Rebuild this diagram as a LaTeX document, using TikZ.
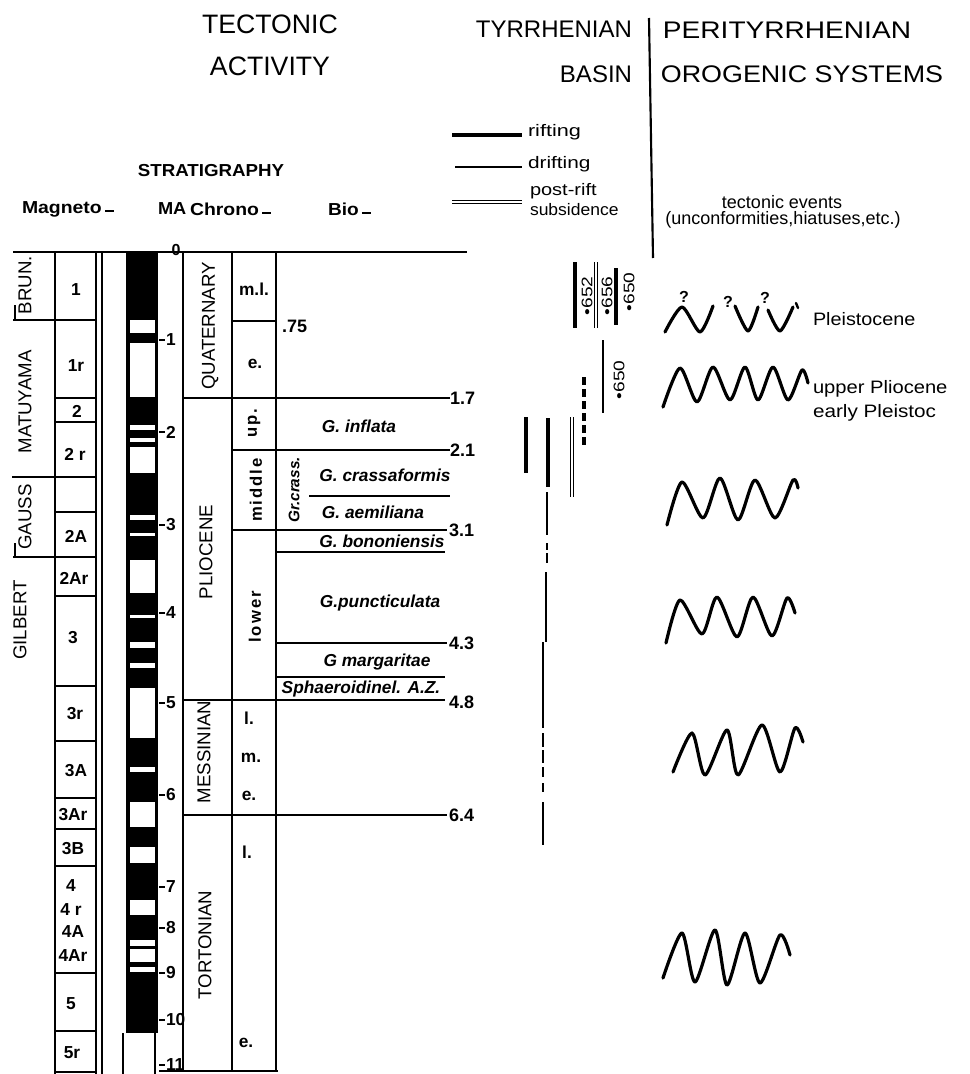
\documentclass[tikz,border=0pt]{standalone}
\usepackage{fontspec}
\setmainfont{Liberation Sans}
\usepackage{graphicx}
\newcommand{\fsz}[1]{\fontsize{#1}{#1}\selectfont}
\newcommand{\udash}{\,\rule[0.6pt]{6pt}{1.7pt}}
\begin{document}
\begin{tikzpicture}[x=0.75pt,y=-0.75pt,
  every node/.style={inner sep=0pt, outer sep=0pt},
  boxl/.style={line width=2.1pt},
  thinl/.style={line width=1.3pt},
  hdr/.style={font=\fsz{20}},
  hdrr/.style={font=\fsz{18}},
  colh/.style={font=\fsz{13}\bfseries, anchor=west},
  epo/.style={rotate=90, font=\fsz{14}},
  ser/.style={rotate=90, font=\fsz{14}},
  chr/.style={font=\fsz{13}\bfseries},
  sub/.style={font=\fsz{13}\bfseries},
  subr/.style={rotate=90, font=\fsz{12.5}\bfseries\addfontfeature{LetterSpace=12}},
  bio/.style={font=\fsz{13}\bfseries\itshape},
  num/.style={font=\fsz{13.5}\bfseries, anchor=west},
  ma/.style={font=\fsz{13}\bfseries, anchor=west},
  odp/.style={rotate=90, font=\fsz{11.5}},
  leg/.style={font=\fsz{12.5}, anchor=west},
  evt/.style={font=\fsz{13.5}, anchor=west},
  rift/.style={line width=3pt},
  drift/.style={line width=1.2pt},
  postrift/.style={double, double distance=1.3pt, line width=1.1pt},
  wave/.style={line width=2.4pt, line cap=round, line join=round},
  qm/.style={font=\fsz{12}\bfseries},
]
\useasboundingbox (0,0) rectangle (970,1074);
\fill[white] (0,0) rectangle (970,1074);

% ---------- headers ----------
\node[hdr] (tect) at (270,24) {TECTONIC};
\node[hdr] (act) at (270,66) {ACTIVITY};
\node[hdrr, anchor=east] (tyr) at (632,29) {TYRRHENIAN};
\node[hdrr, anchor=east] (basin) at (632,74) {BASIN};
\node[hdrr] (peri) at (787,30) {\scalebox{1.17}[1]{PERITYRRHENIAN}};
\node[hdrr] (orog) at (802,74) {\scalebox{1.12}[1]{OROGENIC SYSTEMS}};
\draw[line width=1.6pt] (649,18) -- (653,258);

\node[font=\fsz{13}\bfseries] (strat) at (211,171) {\scalebox{1.08}[1]{STRATIGRAPHY}};
\node[colh] (magh) at (22,209) {\scalebox{1.12}[1]{Magneto\udash}};
\node[colh] (mah) at (158,209) {\scalebox{1.05}[1]{MA}};
\node[colh] (chh) at (190,209) {\scalebox{1.12}[1]{Chrono\udash}};
\node[colh] (bioh) at (328,209) {\scalebox{1.1}[1]{Bio\udash}};

% legend
\draw[rift] (452,135) -- (522,135);
\node[leg] (lrift) at (528,132) {\scalebox{1.3}[1]{rifting}};
\draw[drift] (455,167) -- (522,167);
\node[leg] (ldrift) at (528,164) {\scalebox{1.25}[1]{drifting}};
\draw[postrift] (452,202) -- (522,202);
\node[leg] (lpost) at (530,191) {\scalebox{1.2}[1]{post-rift}};
\node[leg] (lsubs) at (530,210) {\scalebox{1.05}[1]{subsidence}};
\node[font=\fsz{13.5}] (tev) at (782,202) {tectonic events};
\node[font=\fsz{13.5}] (unc) at (783,220) {(unconformities,hiatuses,etc.)};

% ---------- main frame ----------
\draw[boxl] (13,252) -- (467,252);
\node[font=\fsz{12}\bfseries] (ma0) at (176,250) {0};

% epoch column
\draw[boxl] (13,320) -- (96,320);
\draw[boxl] (12,477) -- (96,477);
\draw[boxl] (13,557) -- (96,557);
\draw[thinl] (15,305) -- (15,320);
\draw[thinl] (15,543) -- (15,557);
\node[epo] (brun) at (25,285) {BRUN.};
\node[epo] (matu) at (25,402) {MATUYAMA};
\node[epo] (gauss) at (25,517) {GAUSS};
\node[epo] (gilb) at (20,620) {GILBERT};

% chron column
\draw[boxl] (55,252) -- (55,1074);
\draw[boxl] (96,252) -- (96,1074);
\foreach \yy in {398,422,512,596,686,741,798,829,866,973,1031,1072}
  \draw[boxl] (55,\yy) -- (96,\yy);
\node[chr] (c1) at (76,290) {1};
\node[chr] (c1r) at (76,366) {1r};
\node[chr] (c2) at (77,411) {2};
\node[chr] (c2r) at (75,454) {2 r};
\node[chr] (c2a) at (76,536) {2A};
\node[chr] (c2ar) at (74,578) {2Ar};
\node[chr] (c3) at (73,638) {3};
\node[chr] (c3r) at (75,714) {3r};
\node[chr] (c3a) at (76,771) {3A};
\node[chr] (c3ar) at (73,815) {3Ar};
\node[chr] (c3b) at (73,849) {3B};
\node[chr] (c4) at (71,886) {4};
\node[chr] (c4r) at (71,910) {4 r};
\node[chr] (c4a) at (73,932) {4A};
\node[chr] (c4ar) at (73,956) {4Ar};
\node[chr] (c5) at (71,1004) {5};
\node[chr] (c5r) at (72,1053) {5r};

\draw[thinl] (102,252) -- (102,1074);

% polarity column
\fill (126,252) rectangle (158,1033);
\foreach \a/\b in {320/333,343/397,425/430,438/442,447/473,515/520,533/536,560/593,615/618,642/648,663/668,688/738,767/772,802/827,847/863,900/915,940/946,949/962,967/972}
  \fill[white] (130,\a) rectangle (155,\b);
\draw[thinl] (123,1033) -- (123,1074);
\draw[thinl] (155,1033) -- (155,1074);

% MA ticks
\foreach \yy/\t [count=\i] in {340/1,432/2,525/3,613/4,703/5,795/6,887/7,928/8,973/9,1020/10,1065/11}{
  \draw[thinl] (159,\yy) -- (165,\yy);
  \node[ma] (ma\i) at (166,\yy) {\t};
}

% chrono columns
\draw[boxl] (183,252) -- (183,1072);
\draw[boxl] (232,252) -- (232,1072);
\draw[boxl] (276,252) -- (276,1072);
\draw[boxl] (232,321) -- (276,321);
\draw[boxl] (183,398) -- (450,398);
\draw[boxl] (232,450) -- (450,450);
\draw[boxl] (309,496) -- (450,496);
\draw[boxl] (232,530) -- (447,530);
\draw[boxl] (276,552) -- (445,552);
\draw[boxl] (276,643) -- (447,643);
\draw[boxl] (276,677) -- (445,677);
\draw[boxl] (183,700) -- (445,700);
\draw[boxl] (183,815) -- (447,815);
\draw[boxl] (159,1071) -- (278,1071);

\node[num] (n75) at (282,326) {.75};
\node[num] (n17) at (450,398) {1.7};
\node[num] (n21) at (450,450) {2.1};
\node[num] (n31) at (449,530) {3.1};
\node[num] (n43) at (449,643) {4.3};
\node[num] (n48) at (449,702) {4.8};
\node[num] (n64) at (449,815) {6.4};

\node[ser] (quat) at (210,326) {QUATERNARY};
\node[ser] (plio) at (206,552) {PLIOCENE};
\node[ser] (mess) at (204,752) {MESSINIAN};
\node[ser] (tort) at (205,945) {TORTONIAN};

\node[sub] (sml) at (254,289) {m.l.};
\node[sub] (se1) at (255,364) {e.};
\node[subr] (sup) at (254,423) {up.};
\node[subr] (smid) at (256,490) {middle};
\node[subr] (slow) at (255,617) {lower};
\node[sub] (sl1) at (249,718) {l.};
\node[sub] (sm1) at (251,758) {m.};
\node[sub] (se2) at (249,796) {e.};
\node[sub] (sl2) at (247,852) {l.};
\node[sub] (se3) at (246,1043) {e.};

\node[bio] (binf) at (359,426) {G. inflata};
\node[bio] (bcra) at (385,475) {G. crassaformis};
\node[bio] (baem) at (373,512) {G. aemiliana};
\node[bio] (bbon) at (382,541) {G. bononiensis};
\node[bio] (bpun) at (380,603) {G.puncticulata};
\node[bio] (bmar) at (377,662) {G margaritae};
\node[bio] (bsph) at (361,689) {Sphaeroidinel. A.Z.};
\node[rotate=90, font=\fsz{11.5}\bfseries\itshape] (bgrc) at (294,490) {Gr.crass.};

% ---------- Tyrrhenian basin ----------
\draw[rift] (575,262) -- (575,328);
\node[odp] (o652) at (587,296) {\scalebox{1.25}[1]{•652}};
\draw[postrift] (596,262) -- (596,328);
\node[odp] (o656) at (607,296) {\scalebox{1.25}[1]{•656}};
\draw[rift] (616,268) -- (616,325);
\node[odp] (o650a) at (629,292) {\scalebox{1.25}[1]{•650}};
\draw[drift] (603,340) -- (603,413);
\node[odp] (o650b) at (619,380) {\scalebox{1.25}[1]{•650}};
\draw[rift, dash pattern=on 6pt off 3pt] (584,377) -- (584,447);
\draw[rift] (526,417) -- (526,473);
\draw[rift] (548,418) -- (548,487);
\draw[postrift] (572,417) -- (572,497);

\draw[line width=1.6pt] (547,492) -- (547,535);
\draw[line width=2pt] (547,543) -- (547,550);
\draw[line width=2pt] (547,553) -- (547,563);
\draw[line width=1.6pt] (546,572) -- (546,642);
\draw[line width=2.2pt] (543,642) -- (543,728);
\foreach \a/\b in {733/747,750/763,767/777,783/792}
  \draw[line width=2pt] (543,\a) -- (543,\b);
\draw[line width=2pt] (543,802) -- (543,845);

% ---------- orogenic waves ----------
\draw[wave] plot[smooth, tension=0.45] coordinates {(665,332) (682,307) (700,332) (713,306)};
\draw[wave] plot[smooth, tension=0.45] coordinates {(735,306) (748,331) (758,307)};
\draw[wave] plot[smooth, tension=0.45] coordinates {(768,310) (780,331) (793,307)};
\node[qm] (q1) at (684,297) {?};
\node[qm] (q2) at (728,302) {?};
\node[qm] (q3) at (765,298) {?};
\draw[line width=1.8pt, line cap=round] (796,303) -- (798,308);
\node[evt] (pleist) at (813,319) {\scalebox{1.1}[1]{Pleistocene}};

\draw[wave] plot[smooth, tension=0.45] coordinates {(663,407) (680,368) (697,402) (713,367) (730,400) (745,367) (758,400) (773,367) (788,400) (802,370) (808,383)};
\node[evt] (uplio) at (813,389) {\scalebox{1.12}[1]{upper Pliocene}};
\node[evt] (epleis) at (813,413) {\scalebox{1.15}[1]{early Pleistoc}};

\draw[wave] plot[smooth, tension=0.45] coordinates {(667,525) (682,482) (703,518) (720,478) (738,520) (755,480) (775,518) (793,480) (798,488)};
\draw[wave] plot[smooth, tension=0.45] coordinates {(666,643) (680,600) (702,634) (717,597) (737,637) (753,597) (772,636) (787,598) (795,613)};
\draw[wave] plot[smooth, tension=0.45] coordinates {(673,772) (692,733) (705,775) (727,730) (738,775) (762,725) (780,772) (795,728) (803,742)};
\draw[wave] plot[smooth, tension=0.45] coordinates {(663,978) (682,933) (695,982) (715,930) (727,985) (745,933) (760,983) (780,935) (790,955)};

\end{tikzpicture}
\end{document}
